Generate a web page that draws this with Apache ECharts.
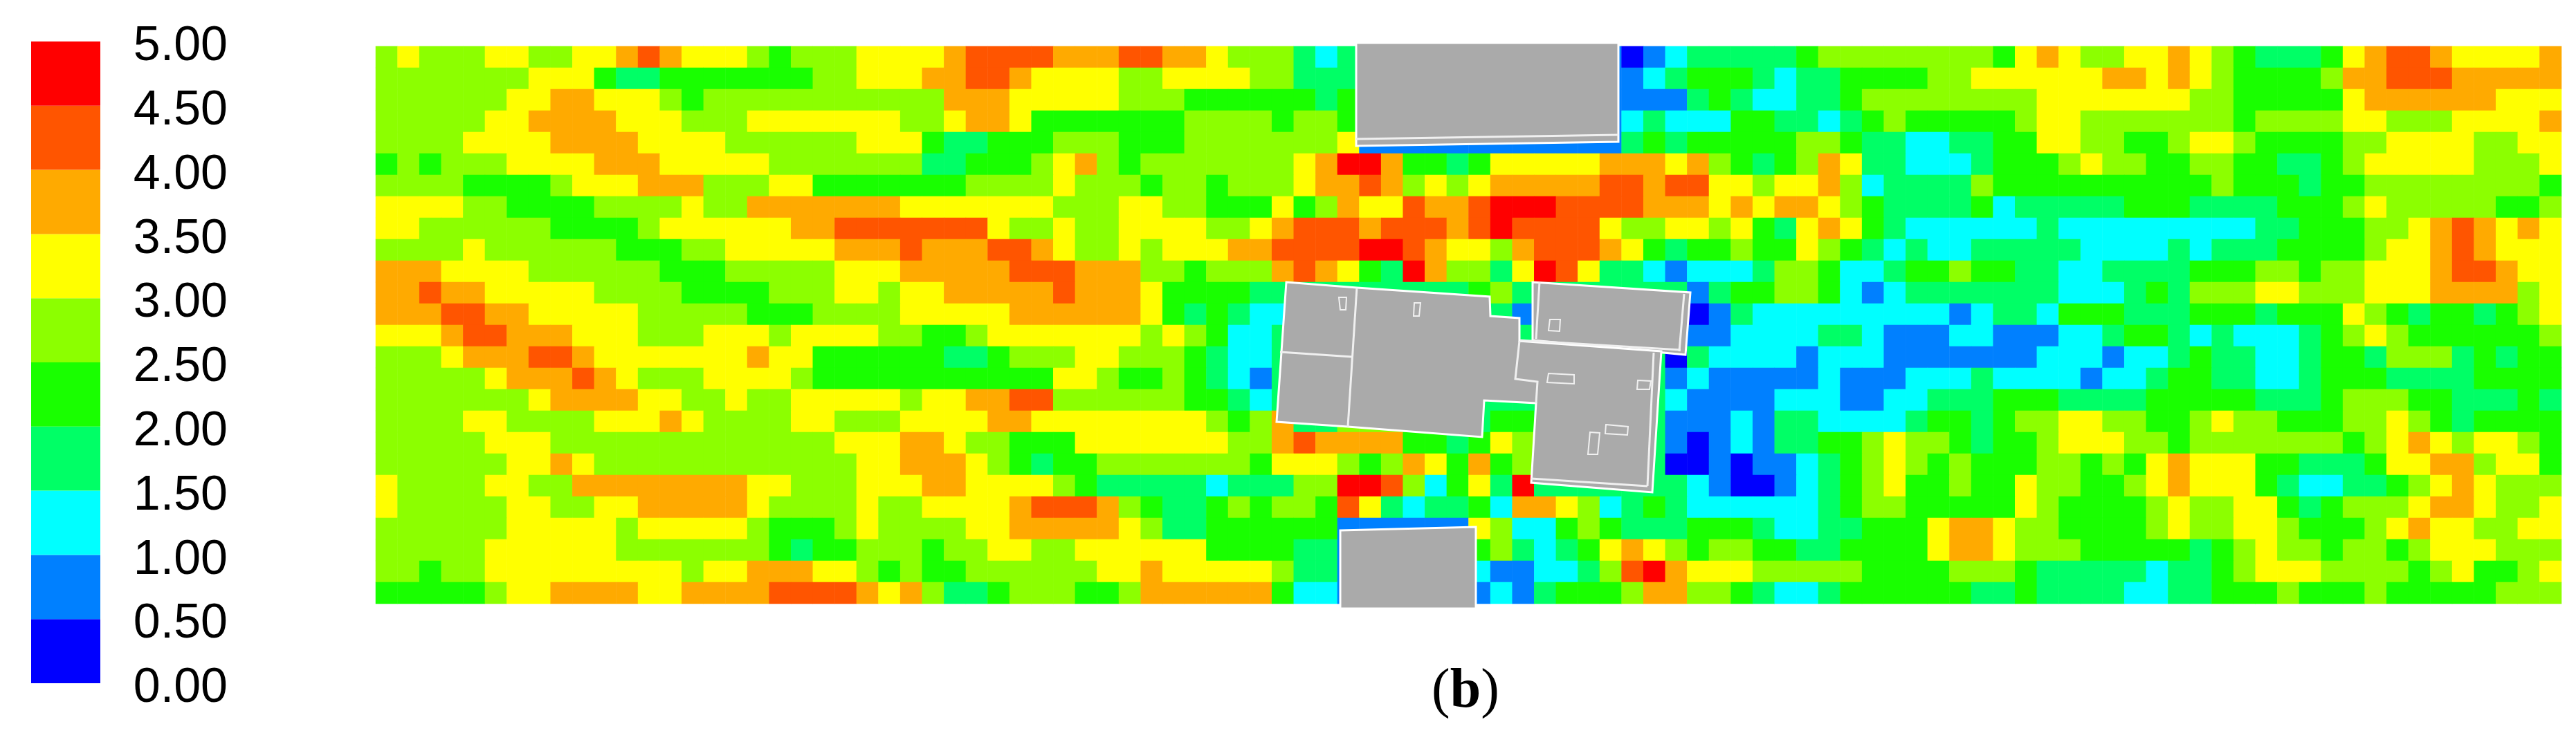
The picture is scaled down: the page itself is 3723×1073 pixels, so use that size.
<!DOCTYPE html>
<html>
<head>
<meta charset="utf-8">
<title>(b)</title>
<style>
  html, body { margin: 0; padding: 0; background: #fff; }
  #chart { width: 3723px; height: 1073px; }
</style>
<script src="https://cdn.jsdelivr.net/npm/echarts@6/dist/echarts.min.js"></script>
</head>
<body>
<div id="chart"></div>
<script>
// colour bands, one per 0.5 step from 0.00 to 5.00
const bandColors = ['#0000ff', '#0080ff', '#00ffff', '#00ff66', '#19ff00', '#8cff00', '#ffff00', '#ffaa00', '#ff5500', '#ff0000']
const tickStep = 0.5

// band for each cell, top row first
const row00 = [5,6,5,5,5,6,6,5,5,6,6,7,8,7,6,6,6,5,4,5,5,5,6,6,6, 6,7,8,8,8,8,7,7,7,8,8,7,7,6,5,5,5,3,2,3,1,1,1,1,1, 1,1,1,1,1,1,1,0,1,2,3,3,3,3,3,4,5,5,5,5,5,5,5,5,4, 6,7,6,5,5,6,6,7,6,5,4,3,3,3,4,6,7,8,8,7,6,6,6,6,7]
const row01 = [5,5,5,5,5,5,5,6,6,6,4,3,3,4,4,4,4,4,4,4,5,5,6,6,6, 7,7,8,8,7,6,6,6,6,5,5,6,6,6,6,5,5,3,3,3,1,1,1,1,1, 1,1,1,1,1,1,1,1,2,3,4,4,4,3,2,3,3,4,4,4,4,5,5,6,6, 6,6,6,6,7,7,6,7,6,5,4,4,4,4,5,7,7,8,8,8,7,7,7,7,7]
const row02 = [5,5,5,5,5,5,6,6,7,7,6,6,6,5,4,5,5,5,5,5,5,5,5,5,5, 5,7,7,7,6,6,6,6,6,5,5,5,4,4,4,4,4,4,3,4,1,1,1,1,1, 1,1,1,1,1,1,1,1,1,1,3,4,3,2,2,3,3,4,5,5,5,5,5,5,5, 5,6,6,6,6,6,6,6,5,5,4,4,4,4,4,6,7,7,7,7,7,7,6,6,6]
const row03 = [5,5,5,5,5,6,6,7,7,7,7,6,6,6,5,5,5,6,6,6,6,6,6,6,5, 5,6,7,7,6,4,4,4,4,4,4,4,5,5,5,5,4,5,5,4,1,1,1,1,1, 1,1,1,1,1,1,1,2,3,2,2,2,4,4,3,3,2,3,4,5,4,4,4,4,4, 5,6,6,5,5,5,5,5,5,5,4,5,5,5,5,6,6,5,5,5,6,6,6,6,7]
const row04 = [5,5,5,5,6,6,6,6,7,7,7,7,6,6,6,6,5,5,5,5,5,5,6,6,6, 4,3,3,4,4,4,5,5,5,4,4,4,5,5,5,5,5,5,5,6,1,1,1,1,1, 1,1,1,1,1,1,1,3,4,3,4,4,4,4,4,5,5,4,3,3,2,2,3,3,4, 4,6,6,5,5,4,4,5,6,6,5,4,4,4,4,5,5,6,6,6,6,5,5,6,6]
const row05 = [4,5,4,5,5,5,6,6,6,6,7,7,7,6,6,6,6,6,5,5,5,5,5,5,5, 3,3,4,4,4,5,6,7,5,4,5,5,5,5,5,5,5,6,7,9,9,7,4,4,3, 4,6,6,6,6,6,7,7,7,6,7,5,4,3,4,5,7,6,3,3,2,2,2,3,4, 4,4,5,6,5,5,4,4,5,5,4,4,3,3,4,5,6,6,6,6,6,5,5,5,6]
const row06 = [5,5,5,5,4,4,4,4,5,6,6,6,7,7,7,5,5,5,6,6,4,4,4,4,4, 4,4,5,5,5,5,6,5,5,5,4,5,5,4,5,5,5,6,7,7,8,7,5,6,5, 6,7,7,7,7,7,8,8,7,8,8,6,6,5,6,6,7,5,2,3,3,3,3,5,4, 4,4,4,4,4,4,4,4,4,5,4,4,4,3,4,4,5,5,5,5,5,5,5,5,4]
const row07 = [6,6,6,6,5,5,4,4,4,4,5,5,5,5,6,5,5,7,7,7,7,7,7,7,6, 6,6,6,6,6,6,5,5,5,6,6,5,5,4,4,4,6,4,5,7,6,6,8,7,7, 8,9,9,9,8,8,8,8,7,7,7,6,7,6,7,7,6,5,4,3,3,3,3,4,2, 3,3,3,3,3,4,4,4,3,3,3,3,4,4,4,5,6,5,5,5,5,5,4,4,5]
const row08 = [6,6,5,5,5,5,5,5,4,4,4,4,5,6,6,6,6,6,6,7,7,8,8,8,8, 8,8,8,6,5,5,6,5,5,6,6,6,6,5,5,6,7,8,8,8,7,8,8,8,7, 8,9,8,8,8,8,6,5,5,6,6,5,6,4,3,6,7,6,4,3,2,2,2,2,2, 2,3,2,2,2,2,2,2,2,2,2,3,3,4,4,4,5,5,6,7,8,7,6,7,6]
const row09 = [5,5,5,5,6,5,5,5,5,5,5,4,4,4,5,5,6,6,6,6,6,7,7,7,8, 7,7,7,8,8,7,6,5,5,6,5,6,6,6,7,7,8,8,8,8,9,9,8,7,6, 6,5,7,8,8,8,7,6,4,3,4,4,5,4,4,6,5,4,3,2,3,2,2,3,3, 3,3,3,2,2,2,2,3,2,3,3,3,4,4,4,4,5,6,6,7,8,7,6,6,6]
const row10 = [7,7,7,6,6,6,6,5,5,5,5,5,5,4,4,4,5,5,5,5,5,6,6,6,7, 7,7,7,7,8,8,8,7,7,7,5,5,4,5,5,5,7,8,7,6,4,3,9,7,5, 5,3,6,9,8,6,3,3,2,1,2,2,2,3,5,5,4,2,2,3,4,4,5,4,4, 3,3,2,2,3,3,3,3,4,4,4,5,5,4,5,5,6,6,6,7,8,8,7,6,6]
const row11 = [7,7,8,7,7,6,6,6,6,6,5,5,5,5,4,4,4,4,5,5,5,6,6,5,6, 6,7,7,7,7,7,8,7,7,7,6,4,4,4,4,3,3,3,3,3,3,3,3,3,3, 4,5,3,3,3,3,3,3,3,3,1,3,4,4,5,5,4,2,1,2,3,3,3,3,3, 3,3,2,2,2,3,4,3,5,5,5,6,6,5,5,5,6,6,6,7,7,7,7,5,6]
const row12 = [7,7,7,8,8,7,7,6,6,6,6,6,5,5,5,5,5,4,4,4,5,5,5,5,6, 6,6,6,6,7,7,7,7,7,7,6,4,3,4,3,2,2,3,3,3,3,3,3,3,3, 3,3,1,3,3,3,3,3,3,3,0,1,3,2,2,2,2,2,2,2,2,2,1,2,3, 3,2,4,4,4,3,3,3,4,4,4,3,4,4,4,6,5,4,3,4,4,3,4,5,6]
const row13 = [6,6,6,7,8,8,7,7,7,6,6,6,5,5,5,6,6,6,5,6,6,6,6,5,5, 4,4,5,6,6,6,6,6,6,6,5,6,5,4,2,2,3,3,3,3,3,3,3,3,3, 3,3,3,3,3,3,3,3,3,3,1,1,2,2,2,2,3,3,2,1,1,1,2,2,1, 1,1,2,2,3,4,4,3,2,3,2,2,2,3,4,5,6,5,4,4,4,4,4,4,5]
const row14 = [5,5,5,6,7,7,7,8,8,7,6,6,6,6,6,6,6,7,6,6,4,4,4,4,4, 4,3,3,4,5,5,5,6,6,5,5,5,4,3,2,2,3,3,3,3,3,3,3,3,3, 3,3,3,3,3,3,3,3,3,0,3,2,2,2,2,1,2,2,2,1,1,1,1,1,1, 1,2,2,2,1,2,2,3,4,3,3,2,2,3,4,4,3,5,5,5,3,4,3,4,4]
const row15 = [5,5,5,5,5,6,7,7,7,8,7,6,5,5,5,6,6,6,6,5,4,4,4,4,4, 4,4,4,4,4,4,6,6,5,4,4,5,4,3,2,1,3,3,3,3,3,3,3,3,3, 3,3,3,3,3,3,3,3,3,1,2,1,1,1,1,1,2,1,1,1,2,2,2,3,2, 2,2,2,1,2,2,3,4,4,3,3,2,2,3,4,4,4,3,3,3,3,4,4,4,4]
const row16 = [5,5,5,5,5,5,5,6,7,7,7,7,6,6,5,5,6,5,5,6,6,6,6,6,5, 6,6,7,7,8,8,5,5,5,5,5,5,4,4,3,2,3,3,3,3,3,3,3,3,3, 3,3,3,3,3,3,3,3,3,2,1,1,1,1,2,2,2,1,1,2,2,3,3,3,4, 4,4,3,3,3,3,4,4,4,4,4,3,3,3,4,5,5,5,4,4,3,3,3,4,3]
const row17 = [5,5,5,5,6,6,5,5,5,5,6,6,6,7,6,5,5,5,5,6,6,5,5,5,6, 6,6,6,7,7,6,6,6,6,6,6,6,6,5,4,5,7,3,3,5,5,5,5,5,3, 3,4,4,3,3,3,3,3,3,1,1,1,2,1,3,3,2,2,2,2,3,4,4,3,4, 5,5,6,6,5,5,4,4,5,6,5,5,4,4,4,5,5,6,5,4,3,4,4,4,4]
const row18 = [5,5,5,5,5,6,6,6,5,5,5,5,5,5,5,5,5,5,5,5,5,6,6,6,7, 7,6,5,5,4,4,4,6,6,6,6,6,6,6,5,5,7,8,7,7,7,7,4,4,3, 4,6,5,3,3,3,3,3,3,1,0,1,2,1,3,3,4,4,5,6,5,5,4,3,4, 4,5,6,6,6,5,5,4,5,5,5,5,5,5,5,4,5,6,7,6,5,6,6,5,4]
const row19 = [5,5,5,5,5,5,6,6,7,6,5,5,5,5,5,5,5,5,5,5,5,5,6,6,7, 7,7,6,5,4,3,4,4,5,5,5,5,5,5,5,4,6,6,6,5,4,5,7,6,4, 7,4,5,3,3,3,3,3,3,0,0,1,0,1,1,2,3,4,5,6,5,4,5,4,4, 4,5,5,4,5,4,6,7,6,6,6,4,4,3,3,3,4,6,6,7,7,5,6,6,4]
const row20 = [6,5,5,5,5,6,6,5,5,7,7,7,7,7,7,7,7,6,6,5,5,5,6,6,6, 7,7,6,6,6,6,5,4,3,3,3,3,3,2,3,3,3,5,5,9,9,8,5,2,4, 6,3,9,3,3,3,3,3,3,3,2,1,0,0,1,2,3,4,5,6,4,4,5,4,4, 6,5,5,4,4,5,6,7,6,6,6,4,3,2,2,3,3,4,5,6,7,6,5,5,5]
const row21 = [6,5,5,5,5,5,6,6,5,5,6,6,7,7,7,7,7,6,5,5,5,5,6,5,5, 6,6,6,6,7,8,8,8,7,5,4,3,3,4,5,4,5,5,4,8,6,3,2,3,3, 4,2,7,7,6,5,2,3,4,3,2,2,2,2,2,2,3,4,5,5,4,4,4,4,4, 6,5,4,4,4,4,5,6,5,5,6,6,4,3,4,5,5,5,6,7,7,6,5,5,6]
const row22 = [5,5,5,5,5,5,6,6,6,6,6,5,6,6,6,6,6,5,4,4,4,5,6,5,5, 5,5,6,6,7,7,7,7,7,6,5,3,3,4,4,4,4,4,4,1,1,1,1,1,1, 6,5,2,2,4,5,4,3,3,3,4,4,4,3,2,2,3,3,4,4,4,6,7,7,6, 5,5,4,4,4,4,5,6,5,5,6,6,5,4,4,4,5,6,7,6,6,5,5,6,6]
const row23 = [5,5,5,5,5,6,6,6,6,6,6,5,5,5,5,5,5,5,4,3,4,4,5,5,5, 4,5,5,6,6,5,5,6,6,6,6,6,6,4,4,4,4,3,3,1,1,1,1,1,1, 4,5,3,2,3,4,6,7,6,5,4,5,5,4,4,3,3,4,4,4,4,6,7,7,6, 5,5,5,4,4,4,4,4,3,4,5,6,5,5,4,5,5,4,5,6,6,6,5,5,5]
const row24 = [5,5,4,5,5,6,6,6,6,6,6,6,6,6,5,6,6,7,7,7,6,6,5,4,5, 4,4,5,5,5,5,5,5,6,6,7,6,6,6,6,6,5,3,3,1,1,1,1,1,1, 2,1,1,2,2,3,5,8,9,7,6,6,6,5,5,5,5,5,4,4,4,4,5,5,5, 4,3,3,3,3,3,2,3,3,4,5,6,6,6,5,5,5,5,4,5,6,4,4,5,6]
const row25 = [4,4,4,4,4,5,6,6,7,7,7,7,6,6,7,7,7,7,8,8,8,8,7,6,7, 5,3,3,4,5,5,5,4,4,5,7,7,7,7,7,7,4,2,2,1,1,1,1,1,1, 1,2,1,3,4,4,4,5,7,7,5,5,4,3,2,2,3,4,4,4,4,4,4,3,3, 4,3,3,3,3,2,2,3,3,4,4,4,5,4,4,4,5,4,4,4,4,4,5,5,5]
const bandRows = [row00, row01, row02, row03, row04, row05, row06, row07, row08, row09, row10, row11, row12, row13, row14, row15, row16, row17, row18, row19, row20, row21, row22, row23, row24, row25]

// building outlines, roof lines and roof units, in plan units (origin at the top left of the field)
const planWidth = 3159
const planHeight = 806
const buildingOutlines = [
  [[1417, -5], [1796, -5], [1796, 138], [1417, 144]],
  [[1394, 700], [1590, 695], [1590, 813], [1394, 813]],
  [[1672, 341], [1900, 356], [1893, 446], [1672, 425]],
  [[1316, 341], [1418, 349], [1610, 362], [1611, 390], [1653, 393], [1653, 426], [1858, 441], [1845, 645], [1670, 631], [1677, 516], [1602, 512], [1599, 565], [1405, 550], [1302, 543]]
]
const roofLines = [
  [[1418, 349], [1405, 550]],
  [[1307, 442], [1411, 449]],
  [[1653, 426], [1647, 481], [1679, 485], [1677, 516]],
  [[1682, 341], [1677, 423]],
  [[1891, 358], [1884, 441]],
  [[1847, 443], [1838, 636]],
  [[1670, 625], [1838, 636]],
  [[1654, 425], [1886, 439]],
  [[1417, 134], [1796, 128]]
]
const roofUnits = [
  [[1392, 363], [1403, 363], [1402, 381], [1394, 381]],
  [[1501, 371], [1510, 371], [1508, 390], [1500, 390]],
  [[1697, 395], [1712, 395], [1711, 412], [1695, 411]],
  [[1695, 473], [1732, 475], [1732, 488], [1693, 486]],
  [[1824, 483], [1843, 484], [1841, 496], [1823, 496]],
  [[1778, 547], [1810, 550], [1809, 562], [1777, 560]],
  [[1755, 558], [1769, 559], [1766, 590], [1752, 590]]
]

const chart = echarts.init(document.getElementById('chart'), null, { renderer: 'canvas' })

const cells = []
bandRows.forEach((row, y) => {
  row.forEach((band, x) => {
    cells.push([x, y, band])
  })
})

function ringSeries (rings, closed, style) {
  return {
    type: 'custom',
    coordinateSystem: 'cartesian2d',
    xAxisIndex: 1,
    yAxisIndex: 1,
    clip: false,
    silent: true,
    z: closed && style.fill ? 5 : 6,
    data: rings.map((_, i) => [i]),
    renderItem: function (params, api) {
      const points = rings[api.value(0)].map((p) => api.coord(p))
      return {
        type: closed ? 'polygon' : 'polyline',
        shape: { points: points },
        style: style
      }
    }
  }
}

const option = {
  animation: false,
  backgroundColor: '#fff',
  title: {
    text: '{p|(}{b|b}{p|)}',
    left: 2113,
    top: 956,
    textAlign: 'center',
    textStyle: {
      fontWeight: 'normal',
      rich: {
        p: { fontFamily: 'Liberation Serif', fontSize: 80, fontWeight: 'normal', color: '#000' },
        b: { fontFamily: 'Liberation Serif', fontSize: 80, fontWeight: 'bold', color: '#000' }
      }
    }
  },
  grid: [
    { left: 543, top: 67, width: 3159, height: 806 },
    { left: 543, top: 67, width: 3159, height: 806 },
    { left: 45, top: 60, width: 100, height: 928 }
  ],
  xAxis: [
    { type: 'category', gridIndex: 0, show: false, data: row00.map((_, i) => i) },
    { type: 'value', gridIndex: 1, show: false, min: 0, max: planWidth },
    { type: 'category', gridIndex: 2, show: false, data: ['speed'] }
  ],
  yAxis: [
    { type: 'category', gridIndex: 0, show: false, inverse: true, data: bandRows.map((_, i) => i) },
    { type: 'value', gridIndex: 1, show: false, inverse: true, min: 0, max: planHeight },
    {
      type: 'value',
      gridIndex: 2,
      position: 'right',
      min: 0,
      max: 5,
      interval: tickStep,
      splitLine: { show: false },
      axisLine: { show: false },
      axisTick: { show: false },
      axisLabel: {
        margin: 184,
        align: 'right',
        hideOverlap: false,
        showMinLabel: true,
        showMaxLabel: true,
        formatter: (v) => `{t|${v.toFixed(2)}}`,
        rich: {
          t: {
            fontFamily: 'Liberation Sans',
            fontSize: 70,
            color: '#000',
            padding: [16, 0, 0, 0]
          }
        }
      }
    }
  ],
  visualMap: {
    show: false,
    type: 'piecewise',
    seriesIndex: 0,
    dimension: 2,
    pieces: bandColors.map((c, i) => ({ value: i, color: c }))
  },
  series: [
    {
      type: 'heatmap',
      xAxisIndex: 0,
      yAxisIndex: 0,
      silent: true,
      data: cells
    },
    ringSeries(buildingOutlines, true, { fill: '#aaaaaa', stroke: '#fff', lineWidth: 3 }),
    ringSeries(roofLines, false, { fill: null, stroke: '#f0f0f0', lineWidth: 3 }),
    ringSeries(roofUnits, true, { fill: null, stroke: '#f0f0f0', lineWidth: 2 })
  ].concat(bandColors.map((c) => ({
    type: 'bar',
    xAxisIndex: 2,
    yAxisIndex: 2,
    stack: 'scale',
    barWidth: '100%',
    silent: true,
    itemStyle: { color: c },
    data: [tickStep]
  })))
}
chart.setOption(option)
</script>
</body>
</html>
